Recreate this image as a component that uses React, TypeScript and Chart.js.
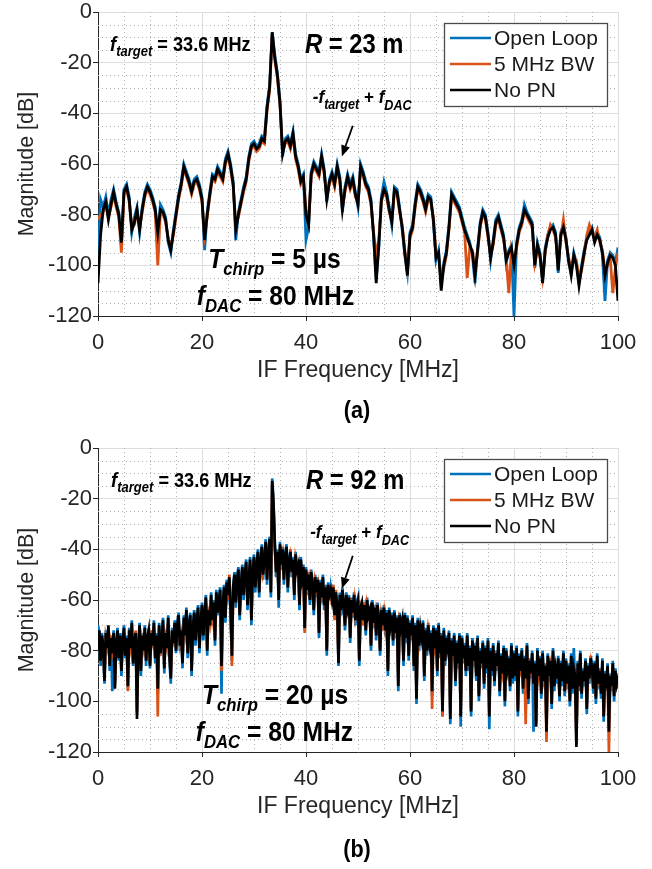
import React, { useEffect, useRef } from 'react';
import { Chart, registerables } from 'chart.js';

Chart.register(...registerables);

const FONT = '"Liberation Sans", Arial, Helvetica, sans-serif';
Chart.defaults.font.family = FONT;

// ---------- data ----------
const FREQ_STEP_A = 0.5; // MHz per sample, panel (a)
const FREQ_STEP_B = 0.25; // MHz per sample, panel (b)
const SERIES_LABELS = ['Open Loop', '5 MHz BW', 'No PN'];
const SERIES_COLORS = ['#0072BD', '#D95319', '#000000'];
const X_MIN = 0;
const X_MAX = 100;
const X_STEP = 20;
const Y_MIN = -120;
const Y_MAX = 0;
const Y_STEP = 20;
const X_TITLE = 'IF Frequency [MHz]';
const Y_TITLE = 'Magnitude [dB]';

// panel (a): Tchirp = 5 us, R = 23 m
const openLoopA = [
  -98, -74, -77, -73, -80, -74, -70, -75, -79, -92,
  -70, -68, -73, -87, -81, -77, -87, -77, -71, -68,
  -70, -73, -77, -88, -76, -78, -81, -91, -95, -86,
  -79, -72, -67, -60, -63, -66, -70, -66, -65, -68,
  -73, -94, -79, -71, -64, -65, -61, -63, -65, -58,
  -55, -60, -67, -90, -79, -74, -69, -65, -57, -52,
  -51, -53, -52, -49, -50, -37, -29, -8, -17, -24,
  -35, -57, -50, -49, -52, -47, -56, -60, -66, -64,
  -90, -85, -63, -59, -61, -63, -56, -62, -75, -66,
  -63, -67, -60, -65, -79, -69, -64, -68, -65, -71,
  -77, -60, -63, -67, -69, -74, -89, -105, -93, -73,
  -67, -71, -77, -84, -69, -70, -77, -86, -96, -103,
  -87, -84, -75, -68, -70, -73, -77, -72, -73, -83,
  -98, -94, -108, -99, -94, -84, -71, -73, -75, -77,
  -81, -85, -88, -91, -96, -107, -93, -83, -78, -80,
  -87, -98, -90, -82, -80, -84, -88, -99, -94, -92,
  -120, -91, -85, -82, -76, -79, -81, -83, -101, -91,
  -95, -106, -93, -88, -85, -84, -87, -103, -87, -84,
  -89, -99, -103, -95, -99, -107, -100, -94, -89, -87,
  -85, -90, -87, -89, -96, -114, -98, -95, -96, -99,
  -93,
];
const bw5A = [
  -82, -80, -79, -76, -81, -77, -72, -77, -81, -95,
  -72, -70, -75, -85, -84, -79, -85, -79, -73, -70,
  -72, -75, -79, -100, -79, -80, -83, -89, -93, -88,
  -81, -74, -69, -62, -65, -68, -72, -68, -67, -70,
  -75, -88, -81, -73, -66, -67, -63, -65, -67, -60,
  -57, -62, -69, -84, -81, -76, -71, -67, -59, -54,
  -53, -55, -54, -51, -52, -39, -31, -9, -19, -26,
  -37, -55, -52, -51, -54, -49, -58, -62, -68, -66,
  -78, -83, -65, -61, -63, -65, -58, -64, -73, -68,
  -65, -69, -62, -67, -77, -71, -66, -70, -67, -73,
  -75, -62, -65, -69, -71, -76, -87, -96, -90, -75,
  -71, -73, -79, -82, -71, -72, -79, -84, -94, -102,
  -89, -86, -77, -70, -72, -75, -79, -74, -75, -81,
  -96, -96, -106, -101, -96, -86, -73, -75, -77, -79,
  -83, -87, -105, -93, -94, -102, -95, -85, -80, -82,
  -89, -96, -92, -84, -82, -86, -90, -97, -111, -94,
  -99, -93, -87, -84, -79, -81, -83, -85, -99, -93,
  -97, -105, -95, -88, -84, -86, -89, -100, -89, -82,
  -91, -97, -102, -97, -98, -106, -102, -96, -88, -84,
  -87, -89, -86, -91, -94, -102, -100, -97, -111, -101,
  -95,
];
const noPnA = [
  -107, -88, -78, -75, -82, -76, -71, -76, -80, -91,
  -71, -69, -74, -86, -83, -78, -86, -78, -72, -69,
  -71, -74, -78, -87, -78, -79, -82, -90, -94, -87,
  -80, -73, -68, -61, -64, -67, -71, -67, -66, -69,
  -74, -90, -80, -72, -65, -66, -62, -64, -66, -59,
  -56, -61, -68, -86, -80, -75, -70, -66, -58, -53,
  -52, -54, -53, -50, -51, -38, -30, -8, -18, -25,
  -36, -56, -51, -50, -53, -48, -57, -61, -67, -65,
  -80, -84, -64, -60, -62, -64, -57, -63, -74, -67,
  -64, -68, -61, -66, -78, -70, -65, -69, -66, -72,
  -76, -61, -64, -68, -70, -75, -88, -107, -92, -74,
  -70, -72, -78, -83, -70, -71, -78, -85, -95, -104,
  -88, -85, -76, -69, -71, -74, -78, -73, -74, -82,
  -97, -95, -110, -100, -95, -85, -72, -74, -76, -78,
  -82, -86, -89, -92, -95, -104, -94, -84, -79, -81,
  -88, -97, -91, -83, -81, -85, -89, -98, -95, -93,
  -100, -92, -86, -83, -78, -80, -82, -84, -100, -92,
  -96, -107, -94, -89, -86, -85, -88, -102, -88, -85,
  -90, -98, -104, -96, -100, -108, -101, -95, -90, -88,
  -86, -91, -88, -90, -95, -104, -99, -96, -97, -100,
  -114,
];

// panel (b): Tchirp = 20 us, R = 92 m
const openLoopB = [
  -70, -73, -86, -73, -79, -93, -72, -80, -71, -88, -74, -96, -72, -94, -78, -71, -84, -73, -90, -75,
  -70, -83, -74, -95, -71, -80, -68, -86, -75, -74, -104, -79, -69, -90, -73, -81, -70, -86, -74, -73,
  -87, -72, -79, -68, -85, -73, -97, -69, -82, -75, -67, -89, -72, -80, -66, -84, -93, -71, -78, -68,
  -81, -69, -65, -80, -71, -87, -66, -75, -63, -83, -69, -65, -90, -70, -64, -78, -67, -62, -81, -68,
  -61, -76, -65, -58, -82, -63, -71, -57, -70, -60, -78, -56, -66, -59, -55, -97, -61, -54, -69, -52,
  -57, -52, -66, -84, -54, -49, -63, -51, -47, -68, -53, -46, -60, -49, -44, -64, -51, -43, -70, -48,
  -42, -57, -46, -40, -59, -44, -38, -52, -43, -36, -54, -41, -35, -59, -12, -21, -37, -51, -40, -63,
  -37, -48, -39, -54, -42, -38, -57, -44, -40, -51, -43, -60, -41, -50, -45, -64, -43, -53, -46, -72,
  -47, -58, -49, -62, -48, -55, -66, -50, -59, -51, -75, -52, -61, -50, -64, -54, -82, -53, -60, -55,
  -59, -57, -65, -59, -61, -86, -57, -66, -55, -63, -72, -57, -65, -58, -77, -59, -67, -57, -70, -61,
  -59, -86, -62, -63, -67, -64, -74, -59, -68, -63, -80, -60, -71, -62, -76, -61, -69, -82, -63, -72,
  -62, -74, -64, -90, -63, -72, -65, -78, -64, -75, -66, -96, -65, -73, -67, -86, -65, -77, -66, -84,
  -68, -76, -66, -88, -69, -101, -67, -80, -70, -77, -68, -92, -71, -82, -69, -79, -72, -98, -70, -81,
  -71, -90, -69, -83, -73, -106, -71, -86, -74, -81, -72, -109, -75, -84, -73, -94, -76, -87, -73, -110,
  -74, -85, -77, -90, -73, -88, -78, -106, -75, -86, -77, -92, -74, -100, -79, -87, -76, -95, -78, -89,
  -75, -111, -79, -90, -77, -94, -80, -88, -76, -98, -81, -91, -78, -102, -79, -89, -82, -96, -77, -93,
  -80, -92, -78, -106, -81, -90, -79, -97, -82, -93, -77, -101, -83, -91, -80, -112, -84, -108, -79, -92,
  -82, -99, -80, -94, -85, -110, -81, -92, -83, -103, -79, -96, -86, -93, -82, -100, -84, -94, -80, -98,
  -83, -95, -85, -102, -81, -97, -79, -92, -116, -84, -96, -80, -99, -87, -94, -83, -105, -85, -93, -82,
  -86, -97, -84, -101, -81, -95, -87, -99, -83, -108, -88, -94, -85, -110, -89, -96, -84, -100, -87, -95,
  -89,
];
const bw5B = [
  -78, -74, -83, -76, -77, -91, -75, -78, -72, -85, -77, -80, -75, -93, -79, -74, -82, -76, -87, -78,
  -73, -81, -77, -96, -74, -78, -71, -84, -78, -72, -105, -77, -72, -87, -76, -79, -73, -83, -77, -71,
  -85, -75, -77, -71, -82, -76, -106, -72, -80, -78, -70, -86, -75, -78, -69, -81, -90, -74, -76, -71,
  -79, -72, -68, -77, -74, -84, -69, -73, -66, -80, -72, -68, -87, -73, -67, -75, -70, -65, -78, -71,
  -64, -73, -68, -61, -79, -66, -69, -60, -67, -63, -75, -59, -64, -62, -58, -88, -64, -57, -66, -55,
  -60, -50, -63, -86, -57, -52, -60, -54, -50, -65, -56, -49, -57, -52, -47, -61, -54, -46, -67, -51,
  -45, -54, -49, -43, -56, -47, -41, -49, -46, -39, -51, -44, -38, -56, -14, -23, -40, -48, -43, -59,
  -40, -45, -42, -51, -45, -41, -54, -47, -43, -48, -46, -57, -44, -47, -48, -61, -46, -50, -49, -73,
  -50, -55, -52, -59, -51, -53, -63, -53, -56, -54, -72, -55, -58, -53, -61, -57, -79, -56, -57, -58,
  -62, -54, -68, -56, -64, -84, -60, -63, -58, -60, -69, -60, -62, -61, -74, -62, -64, -60, -67, -64,
  -62, -83, -65, -60, -70, -61, -71, -62, -65, -66, -77, -63, -68, -65, -73, -64, -66, -79, -66, -69,
  -65, -71, -67, -87, -66, -69, -68, -75, -67, -72, -69, -93, -68, -70, -70, -83, -68, -74, -69, -81,
  -71, -73, -69, -85, -72, -98, -70, -77, -73, -74, -71, -89, -74, -79, -72, -76, -75, -103, -73, -78,
  -74, -87, -72, -80, -76, -106, -74, -83, -77, -78, -75, -105, -78, -81, -76, -91, -79, -84, -76, -105,
  -77, -82, -80, -87, -76, -85, -81, -103, -78, -83, -80, -89, -77, -97, -82, -84, -79, -92, -81, -86,
  -78, -105, -82, -87, -80, -91, -83, -85, -79, -95, -84, -88, -81, -99, -82, -86, -85, -93, -80, -90,
  -83, -89, -81, -103, -84, -87, -82, -94, -85, -109, -80, -98, -86, -88, -83, -92, -87, -109, -82, -89,
  -85, -96, -83, -91, -88, -116, -84, -89, -86, -100, -82, -93, -89, -90, -85, -97, -87, -91, -83, -95,
  -86, -92, -88, -99, -84, -94, -89, -89, -117, -87, -93, -83, -96, -90, -91, -86, -102, -88, -90, -85,
  -89, -94, -87, -98, -84, -92, -90, -96, -86, -105, -91, -91, -88, -120, -92, -93, -87, -97, -90, -92,
  -91,
];
const noPnB = [
  -80, -72, -84, -74, -78, -92, -73, -79, -70, -86, -75, -81, -73, -95, -77, -72, -83, -74, -88, -76,
  -71, -82, -75, -94, -72, -79, -69, -85, -76, -73, -107, -78, -70, -88, -74, -80, -71, -84, -75, -72,
  -86, -73, -78, -69, -83, -74, -95, -70, -81, -76, -68, -87, -73, -79, -67, -82, -91, -72, -77, -69,
  -80, -70, -66, -78, -72, -85, -67, -74, -64, -81, -70, -66, -88, -71, -65, -76, -68, -63, -79, -69,
  -62, -74, -66, -59, -80, -64, -70, -58, -68, -61, -76, -57, -65, -60, -56, -86, -62, -55, -67, -53,
  -58, -51, -64, -82, -55, -50, -61, -52, -48, -66, -54, -47, -58, -50, -45, -62, -52, -44, -68, -49,
  -43, -55, -47, -41, -57, -45, -39, -50, -44, -37, -52, -42, -36, -57, -13, -22, -38, -49, -41, -60,
  -38, -46, -40, -52, -43, -39, -55, -45, -41, -49, -44, -58, -42, -48, -46, -62, -44, -51, -47, -71,
  -48, -56, -50, -60, -49, -54, -64, -51, -57, -52, -73, -53, -59, -51, -62, -55, -80, -54, -58, -56,
  -60, -55, -66, -57, -62, -85, -58, -64, -56, -61, -70, -58, -63, -59, -75, -60, -65, -58, -68, -62,
  -60, -84, -63, -61, -68, -62, -72, -60, -66, -64, -78, -61, -69, -63, -74, -62, -67, -80, -64, -70,
  -63, -72, -65, -88, -64, -70, -66, -76, -65, -73, -67, -94, -66, -71, -68, -84, -66, -75, -67, -82,
  -69, -74, -67, -86, -70, -99, -68, -78, -71, -75, -69, -90, -72, -80, -70, -77, -73, -96, -71, -79,
  -72, -88, -70, -81, -74, -104, -72, -84, -75, -79, -73, -107, -76, -82, -74, -92, -77, -85, -74, -106,
  -75, -83, -78, -88, -74, -86, -79, -104, -76, -84, -78, -90, -75, -98, -80, -85, -77, -93, -79, -87,
  -76, -106, -80, -88, -78, -92, -81, -86, -77, -96, -82, -89, -79, -100, -80, -87, -83, -94, -78, -91,
  -81, -90, -79, -104, -82, -88, -80, -95, -83, -91, -78, -99, -84, -89, -81, -93, -85, -110, -80, -90,
  -83, -97, -81, -92, -86, -112, -82, -90, -84, -101, -80, -94, -87, -91, -83, -98, -85, -92, -81, -96,
  -84, -93, -86, -100, -82, -95, -87, -90, -118, -85, -94, -81, -97, -88, -92, -84, -103, -86, -91, -83,
  -87, -95, -85, -99, -82, -93, -88, -97, -84, -106, -89, -92, -86, -112, -90, -94, -85, -98, -88, -93,
  -90,
];

// ---------- drawing helpers ----------
type Run = { t: string; size: number; italic?: boolean; dy?: number };

function drawRuns(ctx: CanvasRenderingContext2D, x: number, y: number, runs: Run[], sx: number) {
  ctx.save();
  ctx.translate(x, y);
  ctx.scale(sx, 1);
  ctx.textAlign = 'left';
  ctx.textBaseline = 'alphabetic';
  ctx.fillStyle = '#000';
  let cx = 0;
  for (const r of runs) {
    ctx.font = `${r.italic ? 'italic ' : ''}bold ${r.size}px ${FONT}`;
    ctx.fillText(r.t, cx, r.dy || 0);
    cx += ctx.measureText(r.t).width;
  }
  ctx.restore();
}

function drawArrow(ctx: CanvasRenderingContext2D, x1: number, y1: number, x2: number, y2: number) {
  const ang = Math.atan2(y2 - y1, x2 - x1);
  const hl = 11;
  const hw = 4.5;
  ctx.save();
  ctx.strokeStyle = '#000';
  ctx.fillStyle = '#000';
  ctx.lineWidth = 1.8;
  ctx.beginPath();
  ctx.moveTo(x1, y1);
  ctx.lineTo(x2 - hl * Math.cos(ang), y2 - hl * Math.sin(ang));
  ctx.stroke();
  ctx.beginPath();
  ctx.moveTo(x2, y2);
  ctx.lineTo(x2 - hl * Math.cos(ang) + hw * Math.sin(ang), y2 - hl * Math.sin(ang) - hw * Math.cos(ang));
  ctx.lineTo(x2 - hl * Math.cos(ang) - hw * Math.sin(ang), y2 - hl * Math.sin(ang) + hw * Math.cos(ang));
  ctx.closePath();
  ctx.fill();
  ctx.restore();
}

type PanelCfg = {
  step: number;
  series: number[][];
  lineWidth: number;
  rangeText: string;
  chirpText: string;
  caption: string;
  captionY: number;
  anchors: {
    ftarget: [number, number];
    range: [number, number];
    alias: [number, number];
    arrowFrom: [number, number];
    arrowTo: [number, number];
    chirp: [number, number];
    dac: [number, number];
  };
};

const panelA: PanelCfg = {
  step: FREQ_STEP_A,
  series: [openLoopA, bw5A, noPnA],
  lineWidth: 2.8,
  rangeText: ' = 23 m',
  chirpText: ' = 5 µs',
  caption: '(a)',
  captionY: 418,
  anchors: {
    ftarget: [2.3, -15.3],
    range: [39.8, -16.1],
    alias: [41.3, -35.8],
    arrowFrom: [49.0, -44.9],
    arrowTo: [46.9, -57.0],
    chirp: [21.2, -101.1],
    dac: [19.0, -115.5],
  },
};

const panelB: PanelCfg = {
  step: FREQ_STEP_B,
  series: [openLoopB, bw5B, noPnB],
  lineWidth: 2.7,
  rangeText: ' = 92 m',
  chirpText: ' = 20 µs',
  caption: '(b)',
  captionY: 421,
  anchors: {
    ftarget: [2.5, -15.3],
    range: [40.0, -16.1],
    alias: [40.8, -35.6],
    arrowFrom: [49.0, -42.5],
    arrowTo: [46.9, -55.5],
    chirp: [20.0, -101.1],
    dac: [18.8, -115.5],
  },
};

function Panel({ cfg, height }: { cfg: PanelCfg; height: number }) {
  const ref = useRef<HTMLCanvasElement | null>(null);

  useEffect(() => {
    const canvas = ref.current;
    if (!canvas) return;
    const freqs = cfg.series[0].map((_, i) => i * cfg.step);
    const order = [2, 1, 0];

    const gridPlugin = {
      id: 'minorGrid',
      beforeDatasetsDraw(chart: any) {
        const { ctx, chartArea, scales } = chart;
        const { left, right, top, bottom } = chartArea;
        ctx.save();
        ctx.strokeStyle = '#b0b0b0';
        ctx.lineWidth = 1;
        ctx.setLineDash([1, 3]);
        for (let v = X_MIN + 5; v < X_MAX; v += 5) {
          if (v % X_STEP === 0) continue;
          const px = Math.round(scales.x.getPixelForValue(v)) + 0.5;
          ctx.beginPath();
          ctx.moveTo(px, top);
          ctx.lineTo(px, bottom);
          ctx.stroke();
        }
        for (let v = Y_MIN + 5; v < Y_MAX; v += 5) {
          if (v % Y_STEP === 0) continue;
          const py = Math.round(scales.y.getPixelForValue(v)) + 0.5;
          ctx.beginPath();
          ctx.moveTo(left, py);
          ctx.lineTo(right, py);
          ctx.stroke();
        }
        ctx.restore();
      },
    };

    const annotPlugin = {
      id: 'annotations',
      afterDraw(chart: any) {
        const { ctx, chartArea, scales } = chart;
        const P = (a: [number, number]) => [scales.x.getPixelForValue(a[0]), scales.y.getPixelForValue(a[1])];
        const an = cfg.anchors;

        let [x, y] = P(an.ftarget);
        drawRuns(ctx, x, y, [
          { t: 'f', size: 20, italic: true },
          { t: 'target', size: 14, italic: true, dy: 5 },
          { t: ' = 33.6 MHz', size: 19.5 },
        ], 0.93);

        [x, y] = P(an.range);
        drawRuns(ctx, x, y, [
          { t: 'R', size: 27, italic: true },
          { t: cfg.rangeText, size: 27 },
        ], 0.88);

        [x, y] = P(an.alias);
        drawRuns(ctx, x, y, [
          { t: '-f', size: 19, italic: true },
          { t: 'target', size: 14, italic: true, dy: 6 },
          { t: ' + ', size: 19 },
          { t: 'f', size: 19, italic: true },
          { t: 'DAC', size: 14, italic: true, dy: 7 },
        ], 0.9);

        const [ax1, ay1] = P(an.arrowFrom);
        const [ax2, ay2] = P(an.arrowTo);
        drawArrow(ctx, ax1, ay1, ax2, ay2);

        [x, y] = P(an.chirp);
        drawRuns(ctx, x, y, [
          { t: 'T', size: 28, italic: true },
          { t: 'chirp', size: 19, italic: true, dy: 7 },
          { t: cfg.chirpText, size: 28 },
        ], 0.88);

        [x, y] = P(an.dac);
        drawRuns(ctx, x, y, [
          { t: 'f', size: 28, italic: true },
          { t: 'DAC', size: 19, italic: true, dy: 7 },
          { t: ' = 80 MHz', size: 28 },
        ], 0.88);

        // legend
        const lx = chartArea.right - 174;
        const ly = chartArea.top + 11;
        const lw = 163;
        const lh = 83;
        ctx.save();
        ctx.fillStyle = '#ffffff';
        ctx.fillRect(lx, ly, lw, lh);
        ctx.strokeStyle = '#4a4a4a';
        ctx.lineWidth = 1.3;
        ctx.strokeRect(lx + 0.5, ly + 0.5, lw, lh);
        ctx.font = `21px ${FONT}`;
        ctx.textBaseline = 'middle';
        ctx.textAlign = 'left';
        SERIES_LABELS.forEach((lab, i) => {
          const yy = ly + 15 + i * 26;
          ctx.strokeStyle = SERIES_COLORS[i];
          ctx.lineWidth = 2.5;
          ctx.beginPath();
          ctx.moveTo(lx + 6, yy);
          ctx.lineTo(lx + 47, yy);
          ctx.stroke();
          ctx.fillStyle = '#1a1a1a';
          ctx.fillText(lab, lx + 50, yy + 1);
        });
        ctx.restore();

        // caption
        ctx.save();
        ctx.translate(357, cfg.captionY);
        ctx.scale(0.9, 1);
        ctx.font = `bold 24px ${FONT}`;
        ctx.textAlign = 'center';
        ctx.textBaseline = 'alphabetic';
        ctx.fillStyle = '#000';
        ctx.fillText(cfg.caption, 0, 0);
        ctx.restore();
      },
    };

    const tickFont = { family: FONT, size: 22 };
    const chart = new Chart(canvas, {
      type: 'line',
      data: {
        labels: freqs,
        datasets: cfg.series.map((vals, i) => ({
          label: SERIES_LABELS[i],
          data: vals,
          borderColor: SERIES_COLORS[i],
          backgroundColor: SERIES_COLORS[i],
          borderWidth: cfg.lineWidth,
          borderJoinStyle: 'miter',
          pointRadius: 0,
          tension: 0,
          fill: false,
          order: order[i],
        })),
      },
      options: {
        animation: false,
        responsive: false,
        maintainAspectRatio: false,
        events: [],
        layout: { padding: { top: 11, right: 34, left: 0, bottom: height - 316 - 68 } },
        plugins: { legend: { display: false }, tooltip: { enabled: false } },
        scales: {
          x: {
            type: 'linear',
            min: X_MIN,
            max: X_MAX,
            ticks: { stepSize: X_STEP, color: '#262626', font: tickFont, padding: 9, maxRotation: 0, autoSkip: false },
            grid: { color: '#dddddd', lineWidth: 1, tickColor: '#262626', tickLength: 5, drawTicks: true },
            border: { color: '#262626', width: 1 },
            title: { display: true, text: X_TITLE, color: '#262626', font: { family: FONT, size: 23 }, padding: 0 },
            afterFit: (s: any) => { s.height = 68; },
          },
          y: {
            type: 'linear',
            min: Y_MIN,
            max: Y_MAX,
            ticks: { stepSize: Y_STEP, color: '#262626', font: { family: FONT, size: 22, lineHeight: 1 }, padding: 1 },
            grid: { color: '#dddddd', lineWidth: 1, tickColor: '#262626', tickLength: 5, drawTicks: true },
            border: { color: '#262626', width: 1 },
            title: { display: true, text: Y_TITLE, color: '#262626', font: { family: FONT, size: 21.5 }, padding: { top: 14.6, bottom: 0 } },
            afterFit: (s: any) => { s.width = 98; },
          },
        },
      } as any,
      plugins: [gridPlugin, annotPlugin],
    });
    return () => chart.destroy();
  }, [cfg, height]);

  return <canvas ref={ref} width={652} height={height} style={{ display: 'block', width: 652, height }} />;
}

export default function App() {
  return (
    <div style={{ position: 'absolute', left: 0, top: 0, width: 652, height: 869, background: '#fff', overflow: 'hidden' }}>
      <div style={{ position: 'absolute', left: 0, top: 0 }}>
        <Panel cfg={panelA} height={436} />
      </div>
      <div style={{ position: 'absolute', left: 0, top: 436 }}>
        <Panel cfg={panelB} height={433} />
      </div>
    </div>
  );
}
